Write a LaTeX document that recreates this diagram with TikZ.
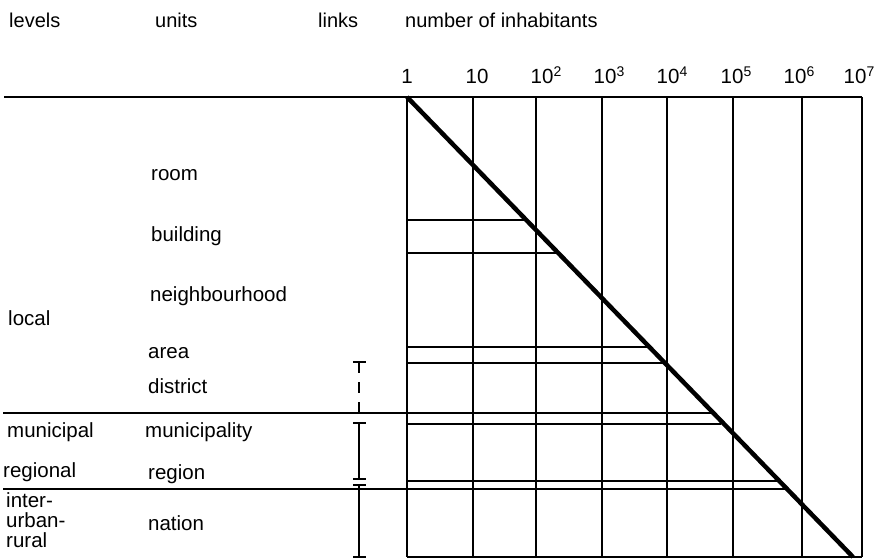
\documentclass[tikz,border=0pt]{standalone}
\usepackage{fontspec}
\setmainfont{Liberation Sans}
\newcommand\tenpow[1]{10\raisebox{7.5pt}{\fontsize{14}{14}\selectfont #1}}
\begin{document}
\begin{tikzpicture}[x=1pt,y=-1pt,
  lbl/.style={anchor=base west, inner sep=0pt, font=\fontsize{20.5}{24}\selectfont},
  hdr/.style={anchor=base west, inner sep=0pt, font=\fontsize{20}{24}\selectfont},
  num/.style={anchor=base, inner sep=0pt, font=\fontsize{20.5}{24}\selectfont},
  gridline/.style={line width=1.8pt},
  diagline/.style={line width=4.5pt},
  linkbar/.style={line width=2pt}]
\useasboundingbox (0,0) rectangle (877,559);

% header
\node[hdr] (hlev) at (9,28) {levels};
\node[hdr] (hun) at (155,28) {units};
\node[hdr] (hlk) at (318,28) {links};
\node[hdr] (hnum) at (405,28) {number of inhabitants};

% scale numbers
\node[num] (n0) at (407,84) {1};
\node[num] (n1) at (477,84) {10};
\node[num] (n2) at (546,84) {\tenpow{2}};
\node[num] (n3) at (609,84) {\tenpow{3}};
\node[num] (n4) at (672,84) {\tenpow{4}};
\node[num] (n5) at (736,84) {\tenpow{5}};
\node[num] (n6) at (799,84) {\tenpow{6}};
\node[num] (n7) at (859,84) {\tenpow{7}};

% units
\node[lbl] (u1) at (151,180) {room};
\node[lbl] (u2) at (151,241) {building};
\node[lbl] (u3) at (150,301) {neighbourhood};
\node[lbl] (u4) at (148,358) {area};
\node[lbl] (u5) at (148,393) {district};
\node[lbl] (u6) at (145,437) {municipality};
\node[lbl] (u7) at (148,479) {region};
\node[lbl] (u8) at (148,530) {nation};

% levels
\node[lbl] (l1) at (8,325) {local};
\node[lbl] (l2) at (7,437) {municipal};
\node[lbl] (l3) at (3,477) {regional};
\node[lbl] (l4a) at (6,507) {inter-};
\node[lbl] (l4b) at (6,527) {urban-};
\node[lbl] (l4c) at (6,547) {rural};

% grid coordinates
\coordinate (tl) at (407,97);
\coordinate (bl) at (407,557);
\coordinate (br) at (862,557);
\coordinate (dend) at (853,557);

% long horizontal lines
\draw[gridline] (4,97) -- (862,97);
\draw[gridline] (3,413) -- (713,413);
\draw[gridline] (3,489) -- (786,489);

% verticals
\foreach \x in {407,473,536,602,667,733,802,862}
  \draw[gridline] (\x,97) -- (\x,557);
\draw[gridline] (bl) -- (br);

% short horizontals to diagonal
\draw[gridline] (407,220) -- (526,220);
\draw[gridline] (407,253) -- (557,253);
\draw[gridline] (407,347) -- (647,347);
\draw[gridline] (407,363) -- (664,363);
\draw[gridline] (407,424) -- (721,424);
\draw[gridline] (407,481) -- (777,481);

% diagonal
\draw[diagline] (tl) -- (dend);

% links
\draw[linkbar] (353,362) -- (366,362);
\draw[linkbar, dash pattern=on 11pt off 9pt] (359,362) -- (359,420);
\draw[linkbar] (353,423) -- (366,423);
\draw[linkbar] (359,423) -- (359,479);
\draw[linkbar] (353,479) -- (366,479);
\draw[linkbar] (353,485) -- (366,485);
\draw[linkbar] (359,485) -- (359,557);
\draw[linkbar] (353,557) -- (366,557);
\end{tikzpicture}
\end{document}
